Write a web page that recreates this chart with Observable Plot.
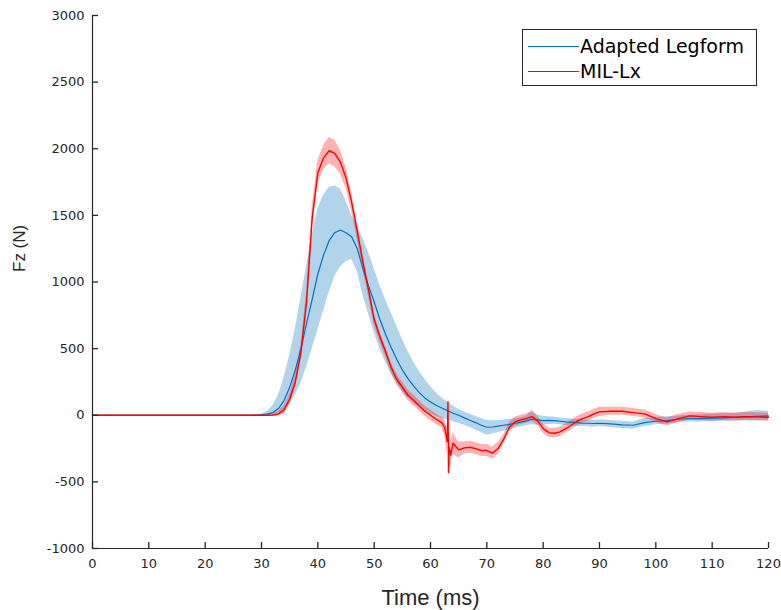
<!DOCTYPE html>
<html>
<head>
<meta charset="utf-8">
<script src="https://cdn.jsdelivr.net/npm/d3@7"></script>
<script src="https://cdn.jsdelivr.net/npm/@observablehq/plot@0.6"></script>
<style>
  html, body { margin: 0; padding: 0; background: #fff; }
  #wrap { position: relative; width: 781px; height: 610px; }
  #legend { position: absolute; left: 522px; top: 29px; width: 235px; height: 57px; box-sizing: border-box;
            border: 1px solid #262626; background: #fff; font-family: "DejaVu Sans", sans-serif; font-size: 19px; color: #000; }
  .row { position: absolute; left: 5px; height: 24px; display: flex; align-items: center; }
  .sw { width: 51px; height: 0; border-top: 1.4px solid; margin-right: 1px; }
</style>
</head>
<body>
<div id="wrap">
  <div id="chart"></div>
  <div id="legend"></div>
</div>
<script>
// ---- data ----
const xTicks = [0, 10, 20, 30, 40, 50, 60, 70, 80, 90, 100, 110, 120];
const yTicks = [-1000, -500, 0, 500, 1000, 1500, 2000, 2500, 3000];
const seriesNames = ["Adapted Legform", "MIL-Lx"];
const seriesColors = ["#0072BD", "#FF0000"];

// Adapted Legform: time (ms), mean, lower band, upper band (N)
const blueTime = [0,10,20,28,30,31,32,33,34,35,36,37,38,39,40,41,42,43,44,45,46,47,48,49,50,51,52,53,54,55,56,57,58,59,60,61,62,63,64,65,66,67,68,69,70,71,72,73,74,75,76,77,78,79,80,81,82,83,84,85,86,87,88,89,90,92,94,96,98,100,102,104,106,108,110,112,114,116,118,120];
const blueMean = [0,0,0,0,3,8,20,50,110,210,340,500,690,870,1060,1200,1310,1370,1390,1370,1340,1250,1100,970,850,720,610,510,420,340,275,220,170,130,100,75,55,35,15,0,-20,-38,-55,-75,-90,-88,-82,-75,-68,-60,-52,-42,-30,-35,-40,-38,-40,-45,-50,-52,-55,-60,-60,-62,-60,-65,-72,-75,-55,-45,-40,-30,-25,-25,-22,-20,-15,-12,-8,-5];
const blueLow = [0,0,0,0,0,0,5,15,40,80,150,240,360,500,640,780,920,1040,1110,1150,1170,1080,900,760,620,500,400,310,240,180,130,90,60,35,12,-8,-22,-35,-48,-60,-75,-92,-110,-130,-150,-140,-130,-120,-108,-98,-88,-78,-72,-75,-75,-70,-68,-72,-76,-78,-82,-85,-86,-88,-85,-92,-100,-105,-85,-72,-65,-55,-50,-50,-48,-45,-42,-42,-42,-40];
const blueHigh = [0,0,0,0,10,30,70,150,280,450,650,880,1120,1350,1550,1650,1710,1720,1700,1610,1500,1420,1330,1220,1100,980,870,770,670,570,480,400,330,270,215,170,130,100,70,45,25,8,-8,-25,-40,-42,-40,-35,-30,-25,-18,-10,40,0,-8,-12,-15,-20,-25,-28,-30,-35,-35,-38,-35,-40,-45,-50,-25,-18,-12,-5,0,5,10,12,15,25,35,30];

// MIL-Lx: time (ms), mean, lower band, upper band (N)
const redTime = [0,10,20,28,30,31,32,33,34,35,36,37,38,39,40,41,42,43,44,45,46,47,48,49,50,51,52,53,54,55,56,57,58,59,60,61,62,62.5,63,63.1,63.2,63.3,63.6,64,65,66,67,68,69,70,71,72,73,74,75,76,77,78,79,80,81,82,83,84,85,86,87,88,89,90,92,94,96,98,100,102,104,106,108,110,112,114,116,118,120];
const redMean = [0,0,0,0,0,0,2,10,40,120,250,470,850,1480,1820,1930,1985,1965,1900,1780,1600,1380,1150,940,720,590,480,360,270,210,150,113,70,30,0,-30,-55,-90,-200,100,-430,-240,-300,-210,-260,-245,-240,-250,-265,-265,-285,-250,-180,-90,-50,-35,-25,-10,-40,-100,-130,-135,-125,-100,-75,-45,-25,-10,10,25,30,30,20,10,-25,-50,-25,-5,-10,-15,-10,-15,-10,-12,-15];
const redLow = [-3,-3,-3,-3,-5,-8,-10,-10,10,80,200,410,770,1390,1730,1840,1885,1865,1810,1700,1530,1320,1095,890,675,550,440,320,230,170,110,73,30,-10,-40,-70,-95,-150,-300,40,-490,-360,-400,-290,-320,-290,-285,-295,-310,-310,-330,-295,-215,-125,-85,-70,-60,-45,-75,-135,-165,-170,-160,-135,-110,-80,-60,-45,-25,-10,0,0,-10,-20,-55,-80,-55,-35,-40,-45,-40,-45,-40,-42,-45];
const redHigh = [3,3,3,3,5,8,14,30,70,160,300,530,930,1570,1910,2020,2085,2065,1990,1860,1670,1440,1205,990,765,630,520,400,310,250,190,153,110,70,40,10,-15,-30,-100,160,-370,-120,-200,-130,-200,-200,-195,-205,-220,-220,-240,-205,-145,-55,-15,0,10,25,-5,-65,-95,-100,-90,-65,-40,-10,10,25,45,60,60,60,50,40,5,-20,5,25,20,15,20,15,20,18,15];

// ---- build rows ----
const blueRows = blueTime.map((t, i) => ({t, m: blueMean[i], lo: blueLow[i], hi: blueHigh[i]}));
const redRows = redTime.map((t, i) => ({t, m: redMean[i], lo: redLow[i], hi: redHigh[i]}));

const W = 781, H = 610, ML = 92, MR = 13, MT = 15, MB = 62, TICK = 6;
const ink = "#262626";
const chart = Plot.plot({
  width: W,
  height: H,
  marginLeft: ML,
  marginRight: MR,
  marginTop: MT,
  marginBottom: MB,
  x: {domain: [0, 120]},
  y: {domain: [-1000, 3000]},
  style: {fontFamily: "'DejaVu Sans', sans-serif", fontSize: "13px", color: ink, background: "#fff"},
  marks: [
    Plot.areaY(blueRows, {x: "t", y1: "lo", y2: "hi", fill: seriesColors[0], fillOpacity: 0.3}),
    Plot.areaY(redRows, {x: "t", y1: "lo", y2: "hi", fill: seriesColors[1], fillOpacity: 0.3}),
    Plot.lineY(blueRows, {x: "t", y: "m", stroke: seriesColors[0], strokeWidth: 1.2}),
    Plot.lineY(redRows, {x: "t", y: "m", stroke: seriesColors[1], strokeWidth: 1.4}),
    Plot.ruleX([0], {stroke: ink, strokeWidth: 1.2}),
    Plot.ruleY([-1000], {stroke: ink, strokeWidth: 1.2}),
    // inward-pointing ticks (MATLAB style)
    Plot.tickX(xTicks, {x: d => d, insetTop: H - MT - MB - TICK, stroke: ink, strokeWidth: 1.3}),
    Plot.tickY(yTicks, {y: d => d, insetRight: W - ML - MR - TICK, stroke: ink, strokeWidth: 1.3}),
    // tick labels only
    Plot.axisX({ticks: xTicks, tickSize: 0, tickPadding: 10, label: null, fill: ink}),
    Plot.axisY({ticks: yTicks, tickSize: 0, tickPadding: 8, label: null, fill: ink, tickFormat: d => String(d)}),
    Plot.text(["Time (ms)"], {frameAnchor: "bottom", dy: 49, fontSize: 22, fill: ink, fontFamily: "'Liberation Sans', sans-serif", lineAnchor: "middle"}),
    Plot.text(["Fz (N)"], {frameAnchor: "left", dx: -73, dy: -10, rotate: -90, fontSize: 17, fill: ink, fontFamily: "'Liberation Sans', sans-serif"})
  ]
});
document.getElementById("chart").appendChild(chart);

// legend
const legend = document.getElementById("legend");
seriesNames.forEach((name, i) => {
  const row = document.createElement("div");
  row.className = "row";
  row.style.top = (i === 0 ? 4 : 29) + "px";
  const sw = document.createElement("div");
  sw.className = "sw";
  sw.style.borderTopColor = seriesColors[i];
  const tx = document.createElement("span");
  tx.textContent = name;
  row.appendChild(sw);
  row.appendChild(tx);
  legend.appendChild(row);
});
</script>
</body>
</html>
